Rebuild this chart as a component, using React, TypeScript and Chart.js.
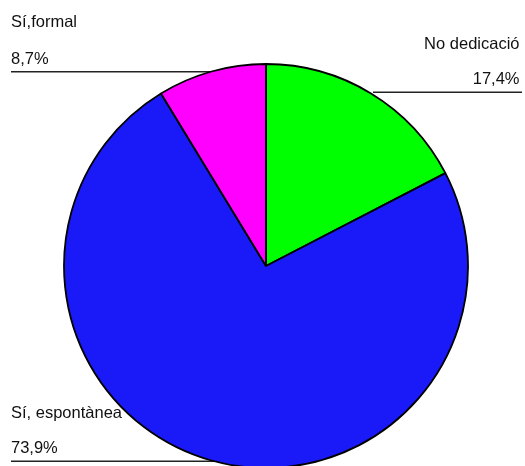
import React, { useEffect, useRef } from "react";
import { Chart, registerables } from "chart.js";

Chart.register(...registerables);

const categories = ["No dedicació", "Sí, espontànea", "Sí,formal"];
const values = [17.4, 73.9, 8.7];
const valueLabels = ["17,4%", "73,9%", "8,7%"];
const colors = ["#00ff00", "#1a1af8", "#ff00ff"];

const labelPlugin = {
  id: "sideLabels",
  beforeDatasetsDraw(chart: any) {
    const ctx = chart.ctx;
    ctx.save();
    ctx.strokeStyle = "#222";
    ctx.lineWidth = 1.6;
    const lines = [
      [373, 522, 92.3],
      [11, 260, 71.7],
      [11, 260, 461.3],
    ];
    lines.forEach(([x1, x2, y]) => {
      ctx.beginPath();
      ctx.moveTo(x1, y);
      ctx.lineTo(x2, y);
      ctx.stroke();
    });
    ctx.fillStyle = "#111";
    ctx.font = "16.5px 'Liberation Sans', Arial, sans-serif";
    ctx.textBaseline = "alphabetic";
    ctx.textAlign = "right";
    ctx.fillText(categories[0], 519.5, 49);
    ctx.fillText(valueLabels[0], 519.5, 84);
    ctx.textAlign = "left";
    ctx.fillText(categories[2], 11, 27);
    ctx.fillText(valueLabels[2], 11, 64);
    ctx.fillText(categories[1], 11, 418);
    ctx.fillText(valueLabels[1], 11, 453);
    ctx.restore();
  },
};

export default function App() {
  const ref = useRef<HTMLCanvasElement>(null);
  useEffect(() => {
    if (!ref.current) return;
    const chart = new Chart(ref.current, {
      type: "pie",
      data: {
        labels: categories,
        datasets: [
          {
            data: values,
            backgroundColor: colors,
            borderColor: "#000",
            borderWidth: 1.8,
            radius: 202,
          } as any,
        ],
      },
      options: {
        responsive: false,
        animation: false,
        layout: { padding: { left: 7, top: 66, right: 0, bottom: 0 } },
        plugins: {
          legend: { display: false },
          tooltip: { enabled: false },
        },
      },
      plugins: [labelPlugin],
    });
    return () => chart.destroy();
  }, []);
  return (
    <div style={{ position: "absolute", left: 0, top: 0, width: 525, height: 466, background: "#fff" }}>
      <canvas ref={ref} width={525} height={466} style={{ display: "block" }} />
    </div>
  );
}
